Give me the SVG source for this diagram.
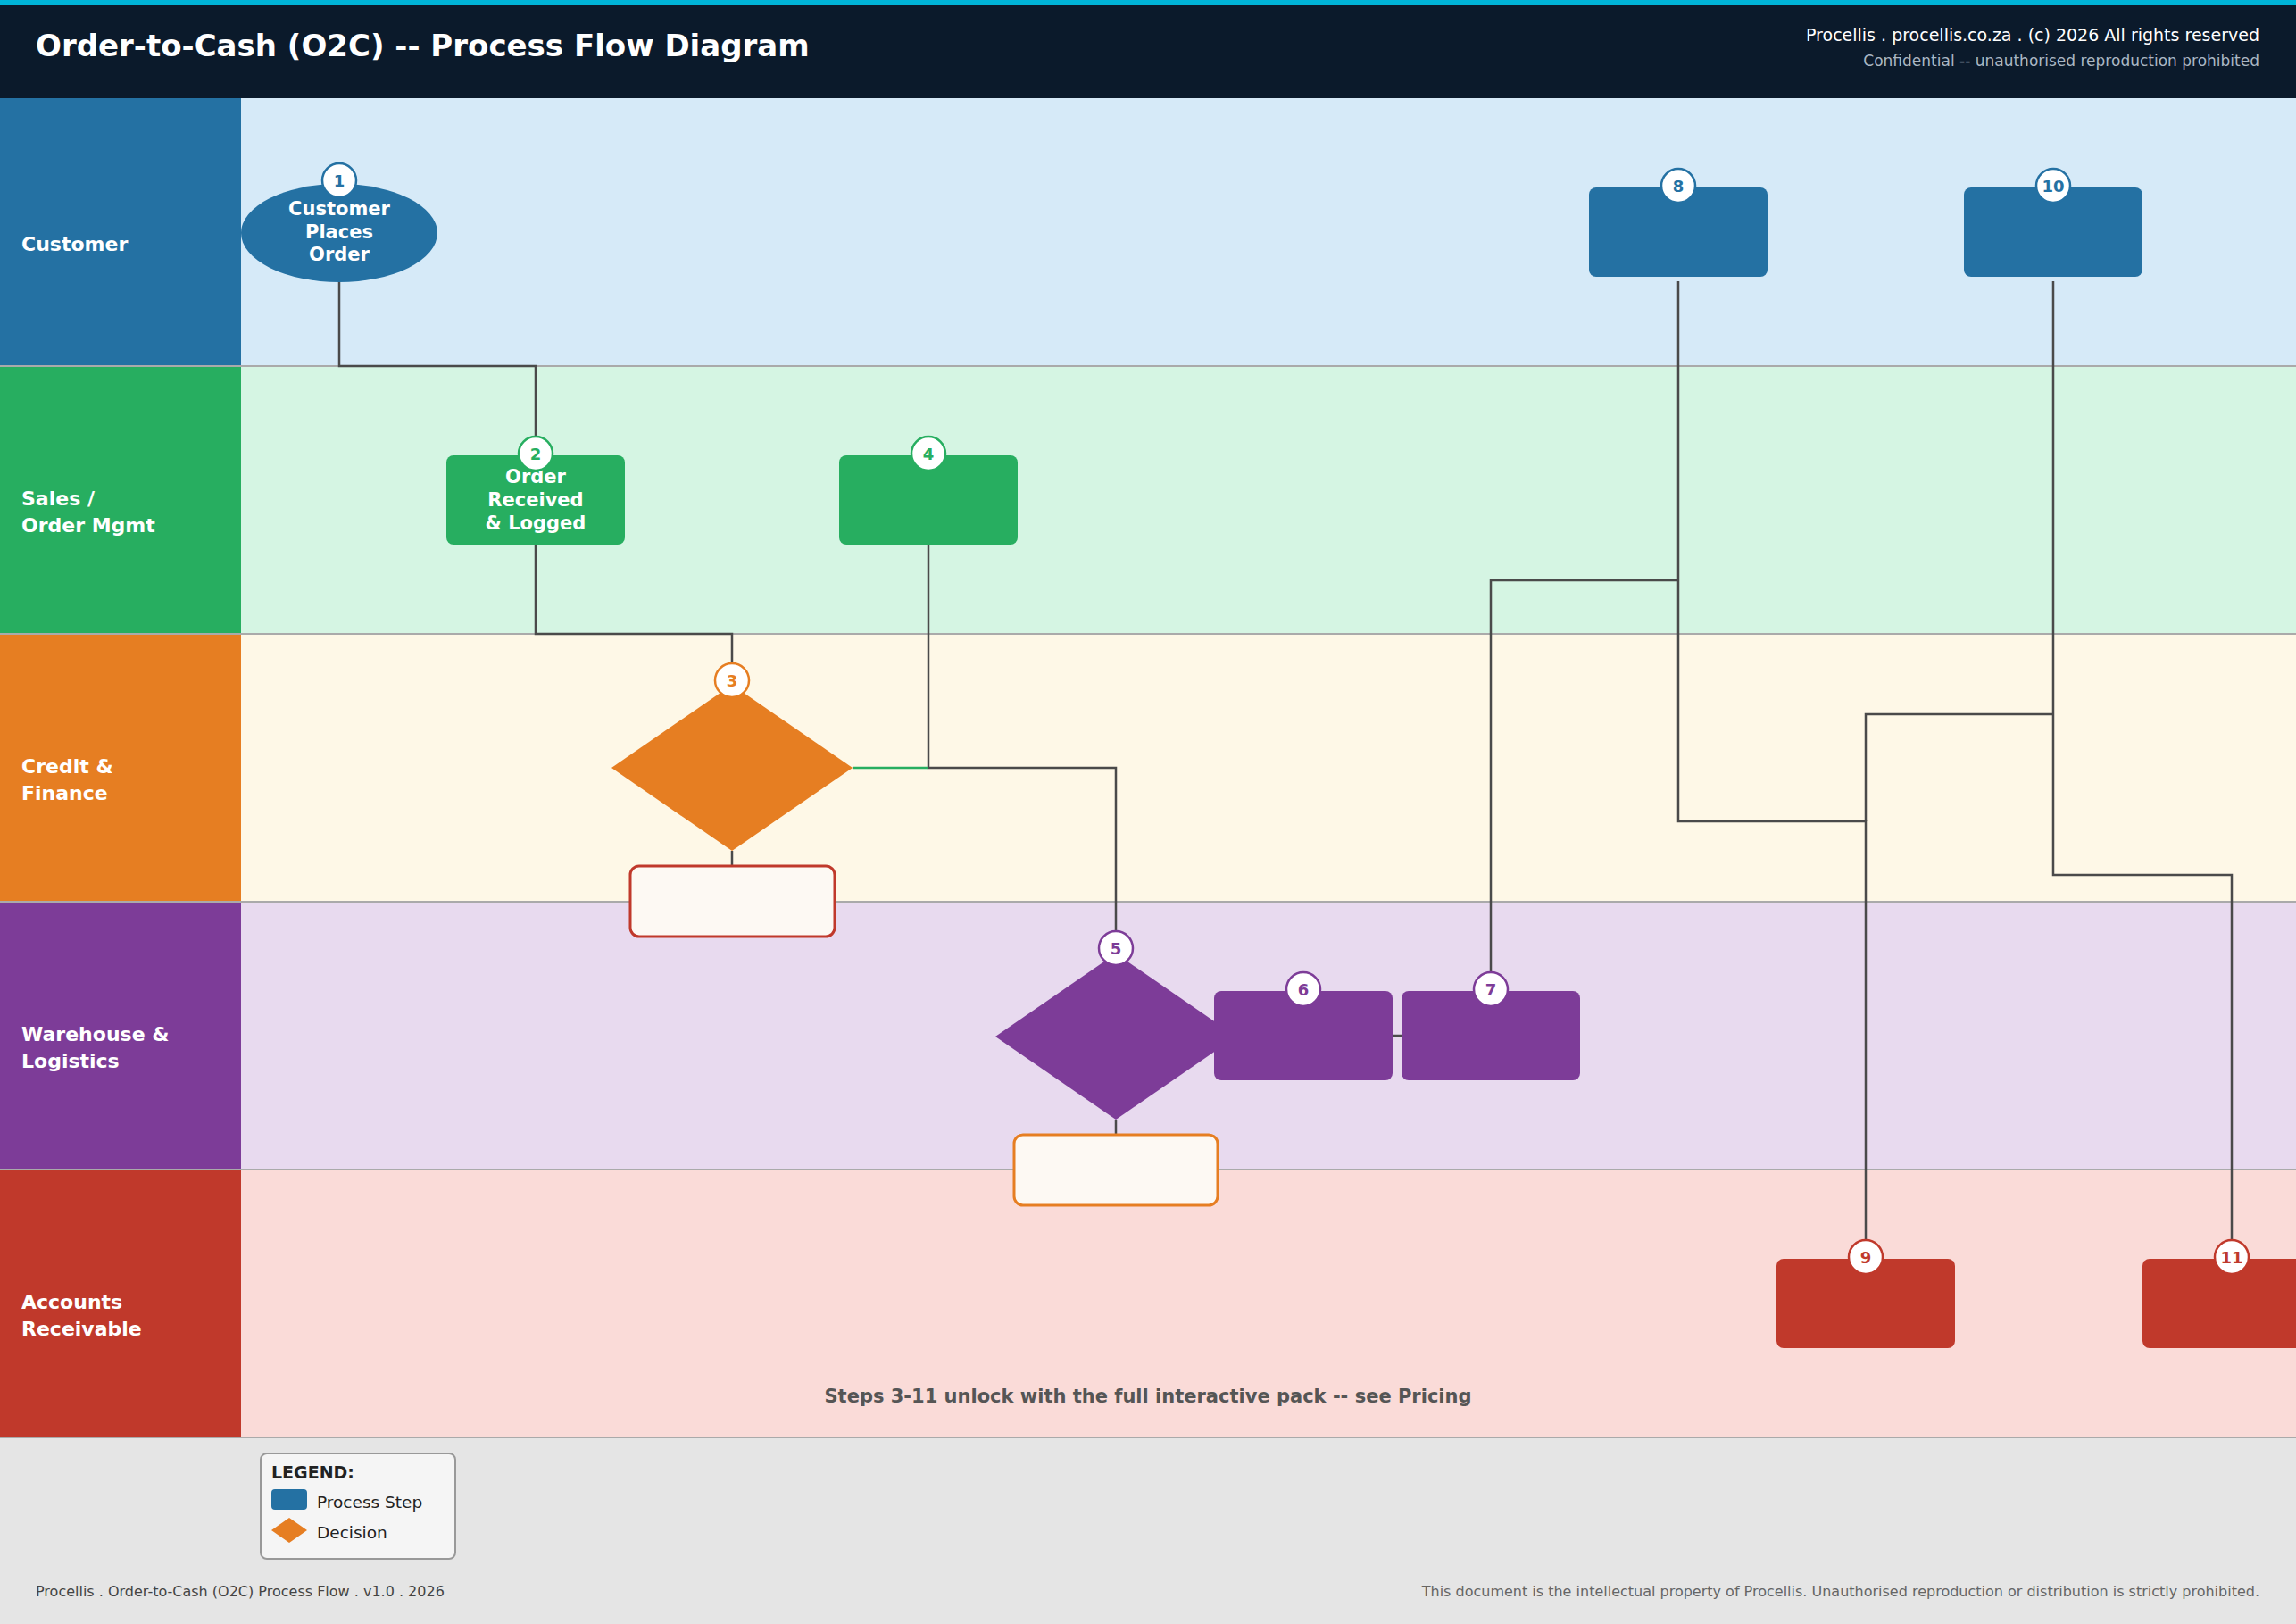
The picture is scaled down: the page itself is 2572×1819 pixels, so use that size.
<svg xmlns="http://www.w3.org/2000/svg" width="2572" height="1819" viewBox="0 0 2572 1819">
<style>
text{font-family:"DejaVu Sans","Liberation Sans",sans-serif}
.lane-label{font-size:22px;font-weight:bold;fill:#ffffff}
.sep{stroke:#aaaaaa;stroke-width:2}
.conn{fill:none;stroke:#4a4a4a;stroke-width:2.5}
.conn-yes{fill:none;stroke:#27ae60;stroke-width:2.5}
.ntext{font-size:21px;font-weight:bold;fill:#ffffff;text-anchor:middle}
.badge{fill:#ffffff;stroke-width:2.5}
.btext{font-size:18px;font-weight:bold;text-anchor:middle}
.blue{fill:#2471a3}.green{fill:#27ae60}.orange{fill:#e67e22}.purple{fill:#7d3c98}.red{fill:#c0392b}
.sblue{stroke:#2471a3}.sgreen{stroke:#27ae60}.sorange{stroke:#e67e22}.spurple{stroke:#7d3c98}.sred{stroke:#c0392b}
.outcome{fill:#fdf9f3;stroke-width:3}
</style>

<!-- header -->
<g id="header">
<rect x="0" y="0" width="2572" height="110" fill="#0b1a2b"/>
<rect x="0" y="0" width="2572" height="6" fill="#00b4d8"/>
<text x="40" y="63" font-size="34" font-weight="bold" fill="#ffffff">Order-to-Cash (O2C) -- Process Flow Diagram</text>
<text x="2531" y="46" font-size="19" fill="#ffffff" text-anchor="end">Procellis . procellis.co.za . (c) 2026 All rights reserved</text>
<text x="2531" y="74" font-size="17" fill="#aab7c4" text-anchor="end">Confidential -- unauthorised reproduction prohibited</text>
</g>

<!-- lanes -->
<g id="lanes">
<rect x="270" y="110" width="2302" height="300" fill="#d6eaf8"/>
<rect x="270" y="410" width="2302" height="300" fill="#d5f5e3"/>
<rect x="270" y="710" width="2302" height="300" fill="#fef8e7"/>
<rect x="270" y="1010" width="2302" height="300" fill="#e8daef"/>
<rect x="270" y="1310" width="2302" height="300" fill="#fadbd8"/>
<rect x="0" y="110" width="270" height="300" class="blue"/>
<rect x="0" y="410" width="270" height="300" class="green"/>
<rect x="0" y="710" width="270" height="300" class="orange"/>
<rect x="0" y="1010" width="270" height="300" class="purple"/>
<rect x="0" y="1310" width="270" height="300" class="red"/>
<line x1="0" y1="410" x2="2572" y2="410" class="sep"/>
<line x1="0" y1="710" x2="2572" y2="710" class="sep"/>
<line x1="0" y1="1010" x2="2572" y2="1010" class="sep"/>
<line x1="0" y1="1310" x2="2572" y2="1310" class="sep"/>
<text class="lane-label" x="24" y="281">Customer</text>
<text class="lane-label" x="24" y="566">Sales /</text>
<text class="lane-label" x="24" y="596">Order Mgmt</text>
<text class="lane-label" x="24" y="866">Credit &amp;</text>
<text class="lane-label" x="24" y="896">Finance</text>
<text class="lane-label" x="24" y="1166">Warehouse &amp;</text>
<text class="lane-label" x="24" y="1196">Logistics</text>
<text class="lane-label" x="24" y="1466">Accounts</text>
<text class="lane-label" x="24" y="1496">Receivable</text>
</g>

<!-- footer -->
<g id="footer">
<rect x="0" y="1611" width="2572" height="208" fill="#e5e5e5"/>
<line x1="0" y1="1610" x2="2572" y2="1610" class="sep"/>
<text x="40" y="1788" font-size="16" fill="#444444">Procellis . Order-to-Cash (O2C) Process Flow . v1.0 . 2026</text>
<text x="2531" y="1788" font-size="16" fill="#666666" text-anchor="end">This document is the intellectual property of Procellis. Unauthorised reproduction or distribution is strictly prohibited.</text>
</g>

<g id="notice">
<text x="1286" y="1571" font-size="21" font-weight="bold" fill="#555555" text-anchor="middle">Steps 3-11 unlock with the full interactive pack -- see Pricing</text>
</g>

<!-- connectors -->
<g id="connectors">
<path class="conn" d="M380,316 V410 H600 V488"/>
<path class="conn" d="M600,610 V710 H820 V742"/>
<path class="conn" d="M820,953 V970"/>
<path class="conn" d="M1040,610 V860 H1250 V1042"/>
<path class="conn-yes" d="M955,860 H1040"/>
<path class="conn" d="M1250,1254 V1271"/>
<path class="conn" d="M1560,1160 H1570"/>
<path class="conn" d="M1670,1088 V650 H1880"/>
<path class="conn" d="M1880,315 V920 H2090 V1388"/>
<path class="conn" d="M2300,315 V980 H2500 V1388"/>
<path class="conn" d="M2300,800 H2090 V920"/>
</g>

<!-- nodes -->
<g id="node1">
<ellipse cx="380" cy="261" rx="110" ry="55" class="blue"/>
<text class="ntext" x="380" y="241">Customer</text>
<text class="ntext" x="380" y="267">Places</text>
<text class="ntext" x="380" y="292">Order</text>
<circle cx="380" cy="202" r="19" class="badge sblue"/>
<text class="btext blue" x="380" y="208.5">1</text>
</g>

<g id="node2">
<rect x="500" y="510" width="200" height="100" rx="8" class="green"/>
<text class="ntext" x="600" y="541">Order</text>
<text class="ntext" x="600" y="567">Received</text>
<text class="ntext" x="600" y="593">&amp; Logged</text>
<circle cx="600" cy="508" r="19" class="badge sgreen"/>
<text class="btext green" x="600" y="514.5">2</text>
</g>

<g id="node3">
<polygon points="820,767 955,860 820,953 685,860" class="orange"/>
<circle cx="820" cy="762" r="19" class="badge sorange"/>
<text class="btext orange" x="820" y="768.5">3</text>
</g>

<g id="node3-outcome">
<rect x="706" y="970" width="229" height="79" rx="10" class="outcome sred"/>
</g>

<g id="node4">
<rect x="940" y="510" width="200" height="100" rx="8" class="green"/>
<circle cx="1040" cy="508" r="19" class="badge sgreen"/>
<text class="btext green" x="1040" y="514.5">4</text>
</g>

<g id="node5">
<polygon points="1250,1068 1385,1161 1250,1254 1115,1161" class="purple"/>
<circle cx="1250" cy="1062" r="19" class="badge spurple"/>
<text class="btext purple" x="1250" y="1068.5">5</text>
</g>

<g id="node5-outcome">
<rect x="1136" y="1271" width="228" height="79" rx="10" class="outcome sorange"/>
</g>

<g id="node6">
<rect x="1360" y="1110" width="200" height="100" rx="8" class="purple"/>
<circle cx="1460" cy="1108" r="19" class="badge spurple"/>
<text class="btext purple" x="1460" y="1114.5">6</text>
</g>

<g id="node7">
<rect x="1570" y="1110" width="200" height="100" rx="8" class="purple"/>
<circle cx="1670" cy="1108" r="19" class="badge spurple"/>
<text class="btext purple" x="1670" y="1114.5">7</text>
</g>

<g id="node8">
<rect x="1780" y="210" width="200" height="100" rx="8" class="blue"/>
<circle cx="1880" cy="208" r="19" class="badge sblue"/>
<text class="btext blue" x="1880" y="214.5">8</text>
</g>

<g id="node9">
<rect x="1990" y="1410" width="200" height="100" rx="8" class="red"/>
<circle cx="2090" cy="1408" r="19" class="badge sred"/>
<text class="btext red" x="2090" y="1414.5">9</text>
</g>

<g id="node10">
<rect x="2200" y="210" width="200" height="100" rx="8" class="blue"/>
<circle cx="2300" cy="208" r="19" class="badge sblue"/>
<text class="btext blue" x="2300" y="214.5">10</text>
</g>

<g id="node11">
<rect x="2400" y="1410" width="200" height="100" rx="8" class="red"/>
<circle cx="2500" cy="1408" r="19" class="badge sred"/>
<text class="btext red" x="2500" y="1414.5">11</text>
</g>

<!-- legend -->
<g id="legend">
<rect x="292" y="1628" width="218" height="118" rx="7" fill="#f5f5f5" stroke="#999999" stroke-width="2"/>
<text x="304" y="1656" font-size="19" font-weight="bold" fill="#222222">LEGEND:</text>
<rect x="304" y="1668" width="40" height="23" rx="4" class="blue"/>
<text x="355" y="1689" font-size="18.5" fill="#222222">Process Step</text>
<polygon points="324,1700 344,1714 324,1728 304,1714" class="orange"/>
<text x="355" y="1723" font-size="18.5" fill="#222222">Decision</text>
</g>
</svg>
